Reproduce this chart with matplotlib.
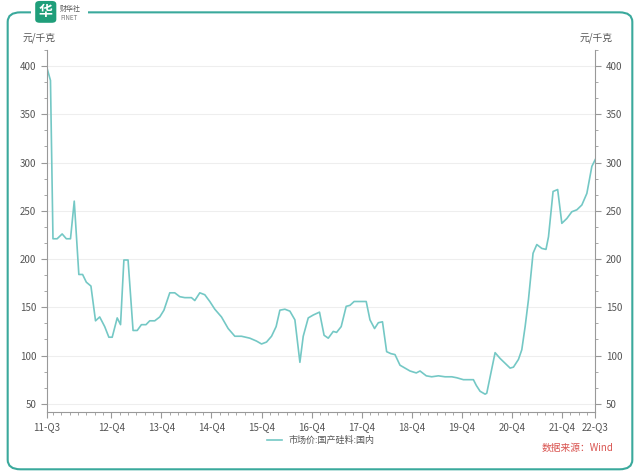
import numpy as np
import matplotlib.pyplot as plt
from matplotlib.patches import FancyBboxPatch
from matplotlib.ticker import MultipleLocator, FixedLocator

plt.rcParams['font.family'] = ['Noto Sans CJK SC', 'DejaVu Sans']

# month index from the left edge (11-Q3) and price in 元/千克
months = [0, 0.9, 1.5, 2.5, 3.7, 4.7, 5.7, 6.6, 7.7, 8.6, 9.5, 10.6, 11.7, 12.7,
          13.9, 14.9, 15.7, 16.9, 17.7, 18.5, 19.5, 20.7, 21.7, 22.7, 23.8, 24.7,
          25.9, 27.1, 28.1, 29.5, 30.7, 31.9, 33.1, 34.7, 35.5, 36.7, 37.9, 39.1,
          40.3, 41.9, 43.5, 45.1, 46.7, 48.7, 50.3, 51.5, 52.7, 53.9, 55.0, 55.9,
          57.1, 58.3, 59.5, 60.7, 61.5, 62.7, 63.9, 65.4, 66.5, 67.5, 68.7, 69.5,
          70.6, 71.8, 72.7, 73.7, 75.1, 76.6, 77.5, 78.6, 79.5, 80.5, 81.5, 82.5,
          83.5, 84.7, 85.9, 87.1, 88.6, 89.5, 91.0, 92.3, 93.9, 95.5, 97.1, 98.3,
          99.9, 102.3, 103.0, 103.9, 105.1, 105.5, 106.5, 107.5, 108.7, 109.9,
          111.1, 111.9, 113.1, 113.9, 114.7, 115.5, 116.6, 117.5, 118.7, 119.7,
          120.3, 121.4, 122.5, 123.5, 124.7, 125.9, 127.1, 128.3, 129.5, 130.7, 131.5]
prices = [399, 385, 221, 221, 226, 221, 221, 260, 184, 184, 176, 172, 136, 140,
          130, 119, 119, 139, 132, 199, 199, 126, 126, 132, 132, 136, 136, 140, 147,
          165, 165, 161, 160, 160, 157, 165, 163, 156, 148, 140, 128, 120, 120, 118,
          115, 112, 114, 120, 130, 147, 148, 146, 137, 93, 120, 139, 142, 145, 121,
          118, 125, 124, 130, 151, 152, 156, 156, 156, 137, 128, 134, 135, 104, 102,
          101, 90, 87, 84, 82, 84, 79, 78, 79, 78, 78, 77, 75, 75, 69, 63, 60, 61,
          82, 103, 97, 92, 87, 88, 96, 106, 130, 158, 206, 215, 211, 210, 223, 270,
          272, 237, 242, 249, 251, 256, 268, 296, 303]

tick_pos = [0, 15.5, 27.5, 39.5, 51.5, 63.5, 75.5, 87.5, 99.5, 111.5, 123.5, 131.5]
tick_labels = ['11-Q3', '12-Q4', '13-Q4', '14-Q4', '15-Q4', '16-Q4', '17-Q4',
               '18-Q4', '19-Q4', '20-Q4', '21-Q4', '22-Q3']

line_color = '#74c8c5'
axis_color = '#999999'
text_color = '#555555'

fig = plt.figure(figsize=(6.4, 4.75), dpi=100)
ax = fig.add_axes([0.073, 0.133, 0.857, 0.762])

ax.plot(months, prices, color=line_color, linewidth=1.2, label='市场价:国产硅料:国内')

ax.set_xlim(0, 131.5)
ax.set_ylim(41.7, 416.7)
ax.yaxis.set_major_locator(FixedLocator(range(50, 401, 50)))
ax.yaxis.set_minor_locator(MultipleLocator(50 / 3))
ax.xaxis.set_major_locator(FixedLocator(tick_pos))
ax.xaxis.set_minor_locator(FixedLocator(np.arange(1.5, 131.5, 2)))
ax.set_xticklabels(tick_labels)

ax.grid(axis='y', color='#eeeeee', linewidth=0.8)
ax.set_axisbelow(True)
for side in ['left', 'right', 'bottom']:
    ax.spines[side].set_color(axis_color)
    ax.spines[side].set_linewidth(0.8)
ax.spines['top'].set_visible(False)
ax.tick_params(axis='both', which='both', colors=axis_color, labelcolor=text_color,
               labelsize=7, direction='out')
ax.tick_params(axis='y', which='both', right=True, labelright=True)
ax.tick_params(which='major', length=4)
ax.tick_params(which='minor', length=2.5)

fig.text(0.061, 0.915, '元/千克', fontsize=7, color=text_color, ha='center')
fig.text(0.931, 0.915, '元/千克', fontsize=7, color=text_color, ha='center')

ax.legend(loc='upper center', bbox_to_anchor=(0.5, -0.045), frameon=False,
          fontsize=6.5, handlelength=1.6, labelcolor=text_color)

fig.text(0.958, 0.05, '数据来源：Wind', fontsize=7, color='#d9534f', ha='right')

# outer rounded frame and logo
frame = FancyBboxPatch((0.012, 0.012), 0.976, 0.962, boxstyle='round,pad=0,rounding_size=0.02',
                       transform=fig.transFigure, facecolor='none', edgecolor='#3aa99c',
                       linewidth=1.5, zorder=0)
fig.patches.append(frame)
fig.patches.append(FancyBboxPatch((0.048, 0.94), 0.09, 0.06, boxstyle='square,pad=0',
                                  transform=fig.transFigure, facecolor='white',
                                  edgecolor='none', zorder=1))
fig.patches.append(FancyBboxPatch((0.055, 0.952), 0.033, 0.046,
                                  boxstyle='round,pad=0,rounding_size=0.007',
                                  transform=fig.transFigure, facecolor='#1f9e7a',
                                  edgecolor='none', zorder=2))
fig.text(0.0715, 0.975, '华', fontsize=10, color='white', ha='center', va='center',
         fontweight='bold', zorder=3)
fig.text(0.094, 0.982, '财华社', fontsize=5, color='#555555', va='center', zorder=3)
fig.text(0.094, 0.962, 'FINET', fontsize=4.5, color='#777777', va='center', zorder=3)

fig.savefig('out.png', dpi=100)
